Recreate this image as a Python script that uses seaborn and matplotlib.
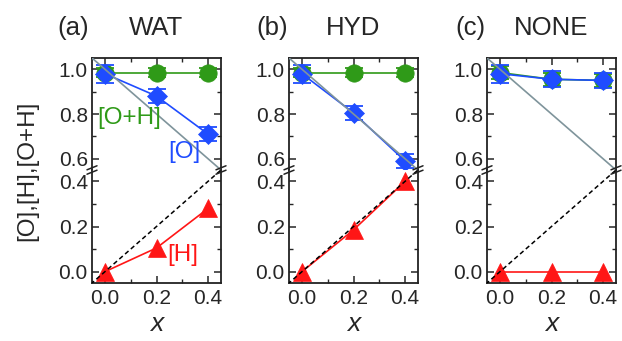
import matplotlib
matplotlib.use("Agg")
import matplotlib.pyplot as plt
import seaborn as sns
from matplotlib.lines import Line2D
from matplotlib.ticker import MultipleLocator, FormatStrFormatter

sns.set_style("ticks")
plt.rcParams['font.family'] = ['Liberation Sans', 'DejaVu Sans']

# ---------------- data ----------------
x_vals = [0.0, 0.2, 0.4]
panel_names = ["WAT", "HYD", "NONE"]
panel_tags = ["(a)", "(b)", "(c)"]

oh_wat = [0.985, 0.985, 0.985]
oh_hyd = [0.985, 0.985, 0.985]
oh_none = [0.985, 0.955, 0.950]
oh_err_wat = [0.02, 0.02, 0.02]
oh_err_hyd = [0.02, 0.02, 0.02]
oh_err_none = [0.03, 0.03, 0.03]

o_wat = [0.980, 0.880, 0.710]
o_hyd = [0.980, 0.805, 0.590]
o_none = [0.980, 0.955, 0.950]
o_err_wat = [0.04, 0.03, 0.03]
o_err_hyd = [0.04, 0.03, 0.03]
o_err_none = [0.04, 0.035, 0.035]

h_wat = [0.0, 0.105, 0.280]
h_hyd = [0.0, 0.185, 0.400]
h_none = [0.0, 0.0, 0.0]

ref_x = [-0.1, 0.5]  # reference lines [O] = 1 - x and [H] = x
ref_o = [1 - v for v in ref_x]
ref_h = list(ref_x)

series = {
    "WAT": (oh_wat, oh_err_wat, o_wat, o_err_wat, h_wat),
    "HYD": (oh_hyd, oh_err_hyd, o_hyd, o_err_hyd, h_hyd),
    "NONE": (oh_none, oh_err_none, o_none, o_err_none, h_none),
}

GREEN = "#2f9a18"
BLUE = "#1f4cff"
RED = "#ff1616"
GRAY = "#7f949b"

W, H = 622, 341
fig = plt.figure(figsize=(W / 100, H / 100), dpi=100)

lefts_px = [92, 289, 487]
ax_w_px = 129
top_px, break_px, bot_px = 58, 170, 283
tag_x = [73, 272, 470]


def style_axis(ax, is_top):
    for s in ax.spines.values():
        s.set_linewidth(1.3)
        s.set_color("#222222")
    ax.set_xlim(-0.05, 0.45)
    ax.xaxis.set_major_locator(MultipleLocator(0.2))
    ax.xaxis.set_minor_locator(MultipleLocator(0.1))
    ax.yaxis.set_major_locator(MultipleLocator(0.2))
    ax.yaxis.set_minor_locator(MultipleLocator(0.1))
    ax.yaxis.set_major_formatter(FormatStrFormatter('%.1f'))
    ax.xaxis.set_major_formatter(FormatStrFormatter('%.1f'))
    if is_top:
        ax.set_ylim(0.55, 1.05)
        ax.spines['bottom'].set_visible(False)
        ax.tick_params(axis='x', which='both', top=True, bottom=False,
                       labelbottom=False, direction='in')
    else:
        ax.set_ylim(-0.05, 0.45)
        ax.spines['top'].set_visible(False)
        ax.tick_params(axis='x', which='both', top=False, bottom=True,
                       labelbottom=True, direction='in', pad=4)
    ax.tick_params(axis='y', which='both', left=True, right=True,
                   direction='in', pad=3)
    ax.tick_params(which='major', length=5, width=1.1, labelsize=15)
    ax.tick_params(which='minor', length=3, width=1.0)
    ax.set_xlabel("")
    ax.set_ylabel("")


for i, name in enumerate(panel_names):
    oh, oh_err, o, o_err, h = series[name]
    lp = lefts_px[i]
    axT = fig.add_axes([lp / W, 1 - break_px / H, ax_w_px / W, (break_px - top_px) / H])
    axB = fig.add_axes([lp / W, 1 - bot_px / H, ax_w_px / W, (bot_px - break_px) / H])
    for ax, is_top in ((axT, True), (axB, False)):
        ax.errorbar(x_vals, oh, yerr=oh_err, fmt='none', ecolor=GREEN,
                    elinewidth=1.2, capsize=6.5, capthick=1.3, zorder=2.9)
        sns.lineplot(x=x_vals, y=oh, ax=ax, color=GREEN, marker='o',
                     markersize=12.5, mec=GREEN, mew=0.5, lw=1.2,
                     legend=False, zorder=3)
        ax.errorbar(x_vals, o, yerr=o_err, fmt='none', ecolor=BLUE,
                    elinewidth=1.2, capsize=6.5, capthick=1.3, zorder=3.9)
        sns.lineplot(x=x_vals, y=o, ax=ax, color=BLUE, marker='D',
                     markersize=10.5, mec=BLUE, mew=0.5, lw=1.2,
                     legend=False, zorder=4)
        sns.lineplot(x=x_vals, y=h, ax=ax, color=RED, marker='^',
                     markersize=13, mec=RED, mew=0.5, lw=1.2,
                     legend=False, zorder=5)
        sns.lineplot(x=ref_x, y=ref_o, ax=ax, color=GRAY, lw=1.2,
                     legend=False, zorder=6)
        sns.lineplot(x=ref_x, y=ref_h, ax=ax, color="black", lw=1.1,
                     linestyle=(0, (3, 2)), legend=False, zorder=6)
        style_axis(ax, is_top)

    if name == "WAT":
        axT.text(0.093, 0.78, "[O+H]", color=GREEN, fontsize=17.5,
                 ha='center', va='center', zorder=7)
        axT.text(0.307, 0.63, "[O]", color=BLUE, fontsize=17.5,
                 ha='center', va='center', zorder=7)
        axB.text(0.30, 0.074, "[H]", color=RED, fontsize=17.5,
                 ha='center', va='center', zorder=7)

    # break marks on left and right spines
    for sx in (lp, lp + ax_w_px):
        for dy in (-2.2, 2.2):
            yc = break_px + dy
            fig.add_artist(Line2D([(sx - 5) / W, (sx + 5) / W],
                                  [1 - (yc + 2) / H, 1 - (yc - 2) / H],
                                  color="#222222", lw=1.1))

    cx = (lp + ax_w_px / 2) / W
    fig.text(cx, 1 - 28 / H, name, fontsize=18.5, ha='center', va='center')
    fig.text(tag_x[i] / W, 1 - 28 / H, panel_tags[i], fontsize=18.5,
             ha='center', va='center')
    fig.text(cx, 1 - 324 / H, "x", fontsize=19, style='italic',
             ha='center', va='center')

fig.text(27 / W, 1 - 171 / H, "[O],[H],[O+H]", fontsize=17.5, rotation=90,
         ha='center', va='center')

fig.savefig("out.png", dpi=100)
